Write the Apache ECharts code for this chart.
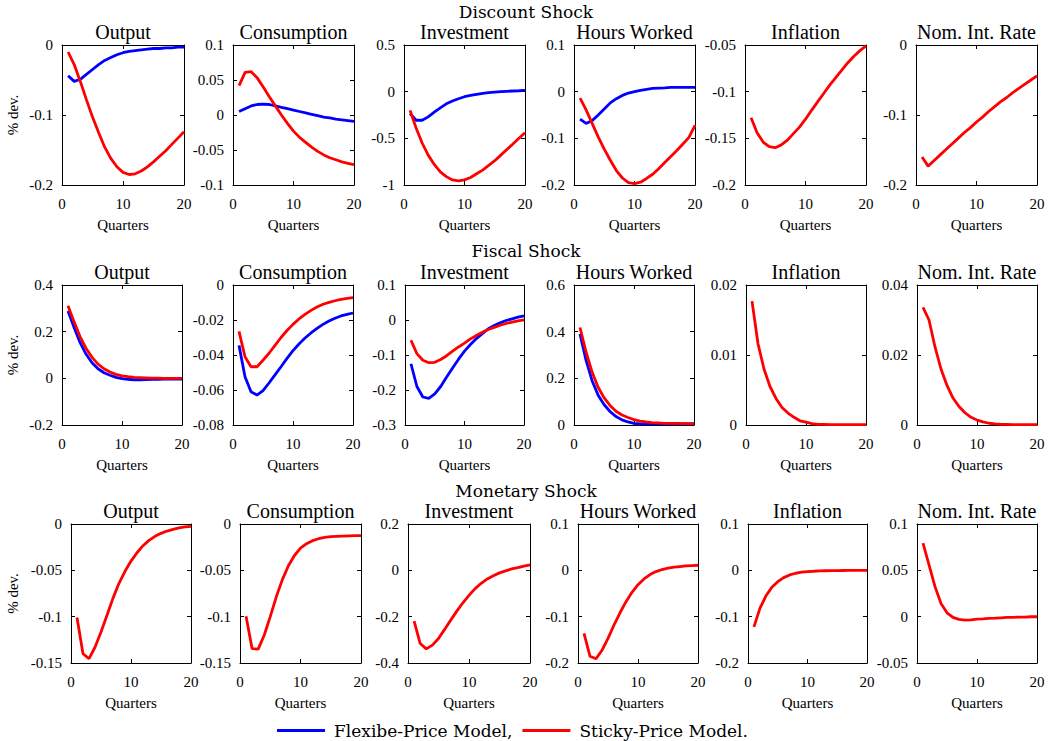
<!DOCTYPE html>
<html>
<head>
<meta charset="utf-8">
<script src="https://cdn.jsdelivr.net/npm/echarts@6/dist/echarts.min.js"></script>
<style>html,body{margin:0;padding:0;background:#fff}#c{width:1057px;height:741px}</style>
</head>
<body>
<div id="c"></div>
<script>
// ---- Data ----
const quarters = [1,2,3,4,5,6,7,8,9,10,11,12,13,14,15,16,17,18,19,20];
const shockTitles = ['Discount Shock', 'Fiscal Shock', 'Monetary Shock'];
const panelTitles = ['Output', 'Consumption', 'Investment', 'Hours Worked', 'Inflation', 'Nom. Int. Rate'];
const legendNames = ['Flexibe-Price Model,', 'Sticky-Price Model.'];

// Discount shock
const discOutputFlex = [-0.044,-0.052,-0.049,-0.042,-0.035,-0.028,-0.022,-0.018,-0.014,-0.011,-0.009,-0.008,-0.007,-0.006,-0.005,-0.005,-0.004,-0.004,-0.003,-0.003];
const discOutputSticky = [-0.010,-0.028,-0.052,-0.078,-0.103,-0.125,-0.146,-0.162,-0.174,-0.182,-0.185,-0.184,-0.180,-0.174,-0.167,-0.159,-0.151,-0.142,-0.133,-0.124];
const discConsFlex = [0.005,0.009,0.013,0.015,0.0155,0.015,0.013,0.011,0.009,0.007,0.005,0.003,0.001,-0.001,-0.003,-0.004,-0.006,-0.007,-0.008,-0.009];
const discConsSticky = [0.042,0.061,0.062,0.053,0.040,0.026,0.013,0.000,-0.012,-0.023,-0.032,-0.039,-0.046,-0.052,-0.057,-0.061,-0.064,-0.067,-0.069,-0.071];
const discInvFlex = [-0.234,-0.306,-0.306,-0.27,-0.22,-0.173,-0.13,-0.10,-0.076,-0.054,-0.04,-0.029,-0.018,-0.011,-0.004,0.0,0.004,0.007,0.010,0.014];
const discInvSticky = [-0.20,-0.39,-0.55,-0.68,-0.78,-0.86,-0.91,-0.946,-0.957,-0.945,-0.92,-0.88,-0.84,-0.79,-0.74,-0.68,-0.62,-0.56,-0.50,-0.44];
const discHoursFlex = [-0.059,-0.068,-0.062,-0.050,-0.037,-0.024,-0.015,-0.008,-0.003,0.0,0.003,0.005,0.007,0.0075,0.008,0.009,0.009,0.009,0.009,0.009];
const discHoursSticky = [-0.014,-0.039,-0.068,-0.097,-0.123,-0.147,-0.169,-0.185,-0.195,-0.197,-0.194,-0.186,-0.177,-0.165,-0.152,-0.139,-0.126,-0.112,-0.098,-0.072];
const discInflSticky = [-0.128,-0.144,-0.154,-0.159,-0.160,-0.157,-0.152,-0.145,-0.138,-0.1295,-0.120,-0.111,-0.102,-0.093,-0.085,-0.077,-0.069,-0.062,-0.056,-0.051];
const discRateSticky = [-0.160,-0.173,-0.165,-0.157,-0.149,-0.141,-0.133,-0.125,-0.118,-0.110,-0.103,-0.095,-0.088,-0.081,-0.075,-0.068,-0.062,-0.056,-0.050,-0.044];

// Fiscal shock
const fiscOutputFlex = [0.289,0.219,0.154,0.104,0.067,0.041,0.024,0.013,0.004,-0.001,-0.004,-0.006,-0.006,-0.005,-0.004,-0.004,-0.003,-0.003,-0.003,-0.003];
const fiscOutputSticky = [0.311,0.243,0.179,0.129,0.090,0.061,0.041,0.027,0.017,0.011,0.007,0.004,0.003,0.002,0.001,0.001,0.0,0.0,0.0,0.0];
const fiscConsFlex = [-0.0345,-0.0524,-0.061,-0.0629,-0.0604,-0.056,-0.0514,-0.0467,-0.0419,-0.0375,-0.0337,-0.0303,-0.0274,-0.0248,-0.0225,-0.0206,-0.019,-0.0177,-0.0168,-0.016];
const fiscConsSticky = [-0.0265,-0.041,-0.0467,-0.0467,-0.043,-0.039,-0.0345,-0.030,-0.026,-0.0225,-0.0194,-0.0168,-0.0145,-0.0126,-0.011,-0.0099,-0.009,-0.0082,-0.0076,-0.0072];
const fiscInvFlex = [-0.125,-0.19,-0.22,-0.224,-0.211,-0.19,-0.163,-0.137,-0.112,-0.089,-0.070,-0.053,-0.039,-0.025,-0.016,-0.008,-0.0014,0.0033,0.008,0.012];
const fiscInvSticky = [-0.058,-0.096,-0.115,-0.122,-0.121,-0.113,-0.102,-0.089,-0.077,-0.066,-0.054,-0.0445,-0.035,-0.027,-0.021,-0.015,-0.010,-0.006,-0.0024,0.0005];
const fiscHoursFlex = [0.39,0.278,0.191,0.129,0.088,0.058,0.036,0.022,0.013,0.007,0.005,0.005,0.005,0.005,0.005,0.005,0.005,0.005,0.005,0.005];
const fiscHoursSticky = [0.418,0.314,0.228,0.163,0.117,0.084,0.059,0.043,0.032,0.023,0.017,0.013,0.010,0.0087,0.007,0.007,0.007,0.006,0.006,0.006];
const fiscInflSticky = [0.0177,0.0116,0.0080,0.0055,0.0038,0.0025,0.0017,0.0011,0.0006,0.0004,0.0002,0.0001,0.0001,0.00005,0.00005,0.00005,0.00005,0.00005,0.00005,0.00005];
const fiscRateSticky = [0.0336,0.030,0.0223,0.016,0.0113,0.0077,0.0053,0.0035,0.0022,0.0014,0.0009,0.0005,0.0003,0.0002,0.0002,0.0001,0.0001,0.0001,0.0001,0.0001];

// Monetary shock
const monOutputSticky = [-0.101,-0.140,-0.1453,-0.133,-0.1165,-0.0985,-0.080,-0.064,-0.051,-0.040,-0.031,-0.0234,-0.0177,-0.0133,-0.0101,-0.0076,-0.0058,-0.0043,-0.0032,-0.0025];
const monConsSticky = [-0.0995,-0.1345,-0.135,-0.120,-0.100,-0.0786,-0.060,-0.045,-0.034,-0.026,-0.0213,-0.018,-0.0159,-0.0144,-0.0137,-0.0133,-0.013,-0.0128,-0.0126,-0.0125];
const monInvSticky = [-0.219,-0.316,-0.339,-0.323,-0.294,-0.255,-0.215,-0.176,-0.140,-0.108,-0.079,-0.056,-0.037,-0.023,-0.011,-0.0025,0.006,0.012,0.018,0.0235];
const monHoursSticky = [-0.136,-0.1855,-0.1907,-0.1725,-0.147,-0.118,-0.0916,-0.0677,-0.0475,-0.031,-0.0186,-0.0092,-0.0027,0.0017,0.0046,0.0067,0.0082,0.0096,0.0103,0.011];
const monInflSticky = [-0.122,-0.082,-0.0555,-0.0367,-0.0244,-0.0157,-0.0099,-0.0063,-0.0041,-0.0027,-0.002,-0.0012,-0.0009,-0.0006,-0.0005,-0.0004,-0.0003,-0.0002,-0.0001,0.0];
const monRateSticky = [0.0794,0.056,0.0324,0.0143,0.0042,-0.0008,-0.003,-0.0037,-0.0034,-0.0026,-0.0023,-0.0019,-0.0016,-0.0012,-0.0008,-0.0008,-0.0005,-0.0005,-0.0001,-0.0001];

// y-axis ranges [min, max, interval] per panel
const yRanges = [
  [[-0.2,0,0.1],[-0.1,0.1,0.05],[-1,0.5,0.5],[-0.2,0.1,0.1],[-0.2,-0.05,0.05],[-0.2,0,0.1]],
  [[-0.2,0.4,0.2],[-0.08,0,0.02],[-0.3,0.1,0.1],[0,0.6,0.2],[0,0.02,0.01],[0,0.04,0.02]],
  [[-0.15,0,0.05],[-0.15,0,0.05],[-0.4,0.2,0.2],[-0.2,0.1,0.1],[-0.2,0.1,0.1],[-0.05,0.1,0.05]]
];
const flexSeries = [
  [discOutputFlex, discConsFlex, discInvFlex, discHoursFlex, null, null],
  [fiscOutputFlex, fiscConsFlex, fiscInvFlex, fiscHoursFlex, null, null],
  [null, null, null, null, null, null]
];
const stickySeries = [
  [discOutputSticky, discConsSticky, discInvSticky, discHoursSticky, discInflSticky, discRateSticky],
  [fiscOutputSticky, fiscConsSticky, fiscInvSticky, fiscHoursSticky, fiscInflSticky, fiscRateSticky],
  [monOutputSticky, monConsSticky, monInvSticky, monHoursSticky, monInflSticky, monRateSticky]
];

// ---- Layout (pixels) ----
const rowTops = [45, 285, 524];
const rowHeights = [140, 140, 139];
const colBoxes = [
  [[62,122],[233,121],[404,121],[574,121],[745,121],[916,121]],
  [[62,120],[233,120],[405,119],[574,120],[746,120],[917,120]],
  [[71,120],[240,121],[408,122],[578,120],[748,119],[917,120]]
];
const shockCenterX = 526;
const shockTitleTops = [3, 242, 482];
const titleTops = [22, 262, 501];

const BLUE = '#0000ff', RED = '#ff0000';
const SERIF = '"Liberation Serif", "Times New Roman", serif';
const CM = '"DejaVu Serif", serif';

function fmt(v){ return String(parseFloat(v.toFixed(6))); }

const grids = [], xAxes = [], yAxes = [], series = [], titles = [];
let gi = 0;
for (let r = 0; r < 3; r++) {
  titles.push({ text: shockTitles[r], left: shockCenterX, top: shockTitleTops[r], textAlign: 'center', padding: 0,
    textStyle: { fontFamily: CM, fontSize: 17, fontWeight: 'normal', color: '#000' } });
  for (let c = 0; c < 6; c++) {
    const [L, W] = colBoxes[r][c];
    const T = rowTops[r], H = rowHeights[r];
    grids.push({ left: L, top: T, width: W, height: H, show: false });
    titles.push({ text: panelTitles[c], left: L + W / 2, top: titleTops[r], textAlign: 'center', padding: 0,
      textStyle: { fontFamily: SERIF, fontSize: 20, fontWeight: 'normal', color: '#000' } });
    const [ymin, ymax, yint] = yRanges[r][c];
    const axLine = { show: true, onZero: false, lineStyle: { color: '#000', width: 1 } };
    const tick = { show: true, inside: true, length: 4, lineStyle: { color: '#000' } };
    // bottom x axis
    xAxes.push({ gridIndex: gi, type: 'value', min: 0, max: 20, interval: 10, position: 'bottom',
      axisLine: axLine, axisTick: tick, splitLine: { show: false },
      axisLabel: { fontFamily: SERIF, fontSize: 15, color: '#000', margin: 11 },
      name: 'Quarters', nameLocation: 'middle', nameGap: 32,
      nameTextStyle: { fontFamily: SERIF, fontSize: 15, color: '#000' } });
    // top x axis (frame + ticks)
    xAxes.push({ gridIndex: gi, type: 'value', min: 0, max: 20, interval: 10, position: 'top',
      axisLine: axLine, axisTick: tick, splitLine: { show: false }, axisLabel: { show: false } });
    // left y axis
    const yLeft = { gridIndex: gi, type: 'value', min: ymin, max: ymax, interval: yint, position: 'left',
      axisLine: axLine, axisTick: tick, splitLine: { show: false },
      axisLabel: { fontFamily: SERIF, fontSize: 15, color: '#000', margin: 9, formatter: fmt } };
    if (c === 0) {
      yLeft.name = '% dev.';
      yLeft.nameLocation = 'middle';
      yLeft.nameGap = (r === 2 ? 51 : 42);
      yLeft.nameTextStyle = { fontFamily: SERIF, fontSize: 15, color: '#000' };
    }
    yAxes.push(yLeft);
    yAxes.push({ gridIndex: gi, type: 'value', min: ymin, max: ymax, interval: yint, position: 'right',
      axisLine: axLine, axisTick: tick, splitLine: { show: false }, axisLabel: { show: false } });
    const xi = gi * 2, yi = gi * 2;
    const f = flexSeries[r][c], s = stickySeries[r][c];
    if (f) series.push({ name: legendNames[0], type: 'line', xAxisIndex: xi, yAxisIndex: yi,
      data: quarters.map((q, i) => [q, f[i]]), showSymbol: false, symbol: 'none', smooth: false,
      lineStyle: { color: BLUE, width: 2.8 }, itemStyle: { color: BLUE }, z: 2 });
    if (s) series.push({ name: legendNames[1], type: 'line', xAxisIndex: xi, yAxisIndex: yi,
      data: quarters.map((q, i) => [q, s[i]]), showSymbol: false, symbol: 'none', smooth: false,
      lineStyle: { color: RED, width: 2.8 }, itemStyle: { color: RED }, z: 3 });
    gi++;
  }
}

const chart = echarts.init(document.getElementById('c'), null, { renderer: 'svg' });
chart.setOption({
  animation: false,
  backgroundColor: '#fff',
  title: titles,
  grid: grids,
  xAxis: xAxes,
  yAxis: yAxes,
  legend: {
    data: legendNames, left: 277, top: 722, padding: 0, itemWidth: 48, itemHeight: 3, icon: 'rect', itemGap: 10,
    textStyle: { fontFamily: CM, fontSize: 17, color: '#000', padding: [0, 0, 0, 4] },
    selectedMode: false
  },
  series: series
});
</script>
</body>
</html>
